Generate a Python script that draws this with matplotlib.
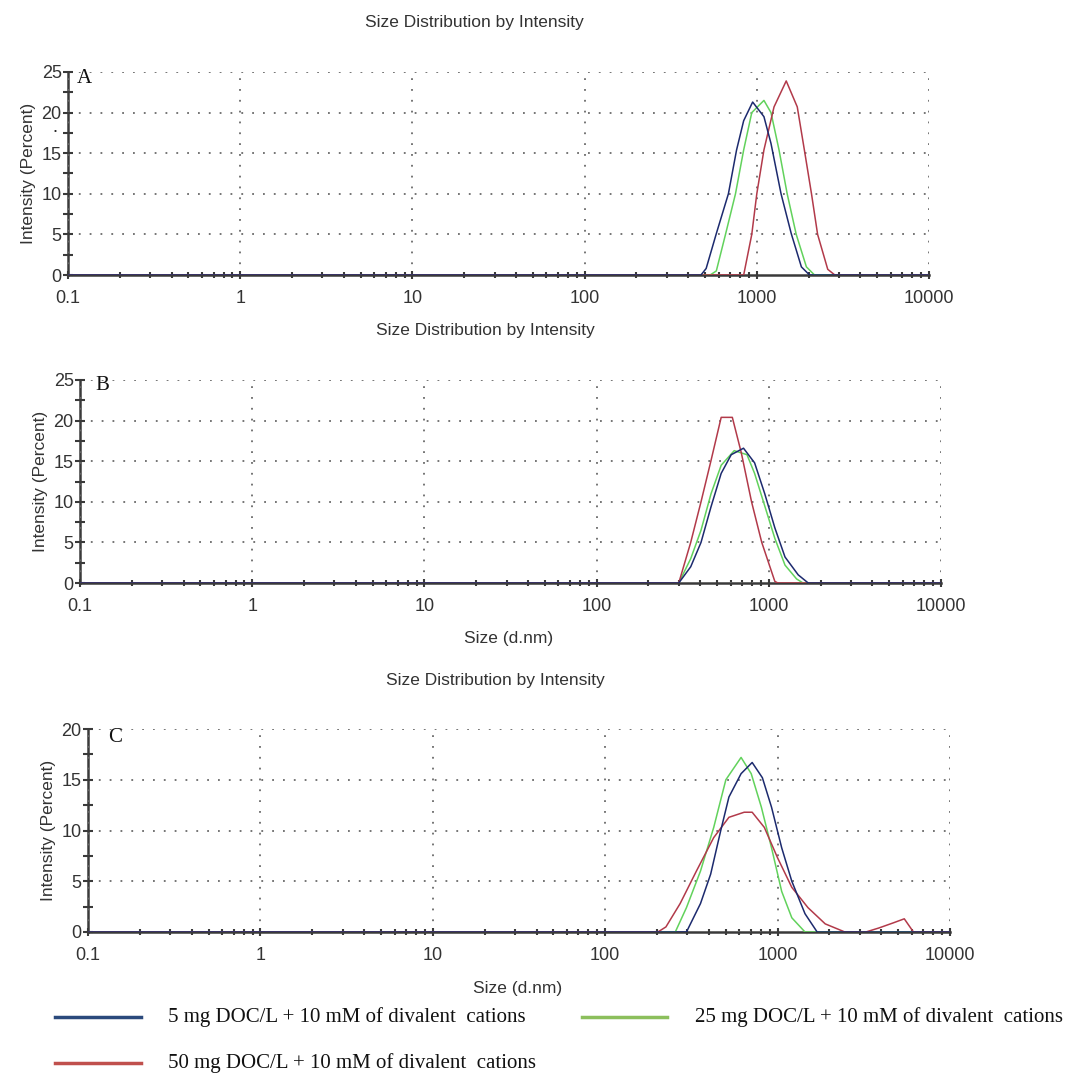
import numpy as np
import matplotlib
matplotlib.use("Agg")
import matplotlib.pyplot as plt
from matplotlib.ticker import LogLocator, FixedLocator, NullFormatter

plt.rcParams['font.family'] = ['Liberation Sans', 'DejaVu Sans']

# ---- data (size in d.nm, intensity in %) ----
# Panel A
a_blue_x = [0.1, 474, 508, 582, 684, 763, 839, 946, 1100, 1209, 1383, 1585, 1815, 2024, 10000]
a_blue_y = [0, 0, 0.8, 5.1, 10, 15.4, 19, 21.3, 19.5, 16.2, 10, 5.1, 1, 0, 0]
a_green_x = [0.1, 536, 582, 658, 752, 839, 935, 1100, 1209, 1346, 1501, 1694, 1941, 2163, 10000]
a_green_y = [0, 0, 0.5, 5, 10, 15.4, 20, 21.5, 20, 15.4, 10, 5, 1, 0, 0]
a_red_x = [0.1, 839, 935, 1000, 1100, 1259, 1482, 1718, 1889, 2078, 2255, 2582, 2839, 10000]
a_red_y = [0, 0, 5, 10, 15.4, 20.7, 23.9, 20.7, 15.4, 10, 5, 0.7, 0, 0]

# Panel B
b_blue_x = [0.1, 300, 352, 404, 462, 529, 605, 713, 827, 947, 1084, 1242, 1482, 1694, 10000]
b_blue_y = [0, 0, 2, 5, 9.4, 13.5, 15.8, 16.6, 14.8, 11, 6.8, 3.2, 1, 0, 0]
b_green_x = [0.1, 300, 352, 404, 462, 529, 630, 747, 827, 947, 1084, 1242, 1450, 1580, 10000]
b_green_y = [0, 0, 3, 6.5, 11, 14.5, 16.3, 15.8, 13.5, 9.5, 5.5, 2.2, 0.5, 0, 0]
b_red_x = [0.1, 300, 352, 404, 462, 529, 614, 693, 794, 910, 1084, 1129, 10000]
b_red_y = [0, 0, 5, 10, 15.1, 20.4, 20.4, 16, 10, 5, 0.2, 0, 0]

# Panel C
c_blue_x = [0.1, 296, 357, 409, 468, 522, 614, 712, 816, 922, 1056, 1209, 1442, 1696, 10000]
c_blue_y = [0, 0, 2.8, 5.7, 10, 13.3, 15.6, 16.7, 15.2, 12.3, 8.3, 5, 1.8, 0, 0]
c_green_x = [0.1, 255, 296, 357, 426, 501, 614, 703, 805, 922, 1056, 1209, 1442, 10000]
c_green_y = [0, 0, 2.4, 6, 10.3, 15, 17.2, 15.6, 12.3, 8.3, 4, 1.4, 0, 0]
c_red_x = [0.1, 202, 225, 272, 338, 426, 522, 640, 712, 838, 1000, 1209, 1500, 1889, 2378, 2450,
           3250, 3874, 4688, 5430, 6138, 10000]
c_red_y = [0, 0, 0.5, 2.8, 6, 9.3, 11.3, 11.8, 11.8, 10.3, 7.3, 4.4, 2.4, 0.8, 0.1, 0,
           0, 0.4, 0.9, 1.3, 0, 0]

series_labels = ['5 mg DOC/L + 10 mM of divalent  cations',
                 '25 mg DOC/L + 10 mM of divalent  cations',
                 '50 mg DOC/L + 10 mM of divalent  cations']
plot_colors = ['#1c2a6e', '#62d25c', '#b23a4a']
legend_colors = ['#2b4a7c', '#8cbf5c', '#c0504d']
panel_letters = ['A', 'B', 'C']
y_max = [25, 25, 20]

W, H = 1073, 1074
fig = plt.figure(figsize=(W / 100, H / 100), dpi=100)


def px_rect(left, right, top, bottom):
    return [left / W, 1 - bottom / H, (right - left) / W, (bottom - top) / H]


axes_px = [(68, 929, 72, 275), (80, 941, 380, 583), (88, 950, 729, 932)]
letter_pos = [(0.0105, 0.97), (0.0174, 0.975), (0.023, 0.96)]
panel_data = [
    [(a_blue_x, a_blue_y), (a_green_x, a_green_y), (a_red_x, a_red_y)],
    [(b_blue_x, b_blue_y), (b_green_x, b_green_y), (b_red_x, b_red_y)],
    [(c_blue_x, c_blue_y), (c_green_x, c_green_y), (c_red_x, c_red_y)],
]

axis_col = '#3a3a3a'
text_col = '#333333'

for i in range(3):
    ax = fig.add_axes(px_rect(*axes_px[i]))
    # draw green first, then red, then blue on top (like the instrument export)
    for j in [1, 2, 0]:
        x, y = panel_data[i][j]
        ax.plot(x, y, color=plot_colors[j], lw=1.1, zorder=3)
    ax.set_xscale('log')
    ax.set_xlim(0.1, 10000)
    ax.set_ylim(0, y_max[i])
    ax.xaxis.set_major_locator(FixedLocator([0.1, 1, 10, 100, 1000, 10000]))
    ax.xaxis.set_minor_locator(LogLocator(base=10, subs=np.arange(2, 10)))
    ax.xaxis.set_minor_formatter(NullFormatter())
    ax.set_xticklabels(['0.1', '1', '10', '100', '1000', '10000'])
    ax.set_yticks(np.arange(0, y_max[i] + 1, 5))
    ax.set_yticks(np.arange(2.5, y_max[i], 5), minor=True)

    for s in ['top', 'right']:
        ax.spines[s].set_visible(False)
    for s in ['left', 'bottom']:
        ax.spines[s].set_color(axis_col)
        ax.spines[s].set_linewidth(1.8)

    ax.tick_params(axis='both', which='both', direction='inout', color=axis_col,
                   labelcolor=text_col, labelsize=13)
    ax.tick_params(axis='y', which='both', length=7, width=1.5, pad=1)
    ax.tick_params(axis='x', which='major', length=6, width=1.5, pad=8)
    ax.tick_params(axis='x', which='minor', length=4, width=1.5)

    ax.grid(True, which='major', color='#6a6a6a', linestyle=(0, (1, 5)), linewidth=1.3)
    ax.set_axisbelow(False)

    ax.set_ylabel('Intensity (Percent)', fontsize=12.5, color=text_col, labelpad=4)
    ax.text(letter_pos[i][0], letter_pos[i][1], panel_letters[i], transform=ax.transAxes,
            family='Liberation Serif', fontsize=15, va='center', ha='left', color='#111111')

# titles and x labels placed like in the exported report
fig.text(474 / W, 1 - 22 / H, 'Size Distribution by Intensity', ha='center', va='center',
         fontsize=12.5, color=text_col)
fig.text(485 / W, 1 - 330 / H, 'Size Distribution by Intensity', ha='center', va='center',
         fontsize=12.5, color=text_col)
fig.text(509 / W, 1 - 639 / H, 'Size (d.nm)', ha='center', va='center', fontsize=12.5, color=text_col)
fig.text(495 / W, 1 - 680 / H, 'Size Distribution by Intensity', ha='center', va='center',
         fontsize=12.5, color=text_col)
fig.text(518 / W, 1 - 988 / H, 'Size (d.nm)', ha='center', va='center', fontsize=12.5, color=text_col)
# stray dot next to the y axis of panel A
fig.text(55 / W, 1 - 131 / H, '•', ha='center', va='center', fontsize=6, color='#222222')

# legend drawn under the last panel
leg_items = [(55, 141, 1017, 168), (582, 667, 1017, 695), (55, 141, 1063, 168)]
for k, (x0, x1, yy, tx) in enumerate(leg_items):
    fig.add_artist(plt.Line2D([x0 / W, x1 / W], [1 - yy / H, 1 - yy / H],
                              color=legend_colors[k], lw=2.5, transform=fig.transFigure))
    fig.text(tx / W, 1 - yy / H, series_labels[k], ha='left', va='center',
             family='Liberation Serif', fontsize=15, color='#111111')

fig.savefig('out.png', dpi=100, facecolor='white')
